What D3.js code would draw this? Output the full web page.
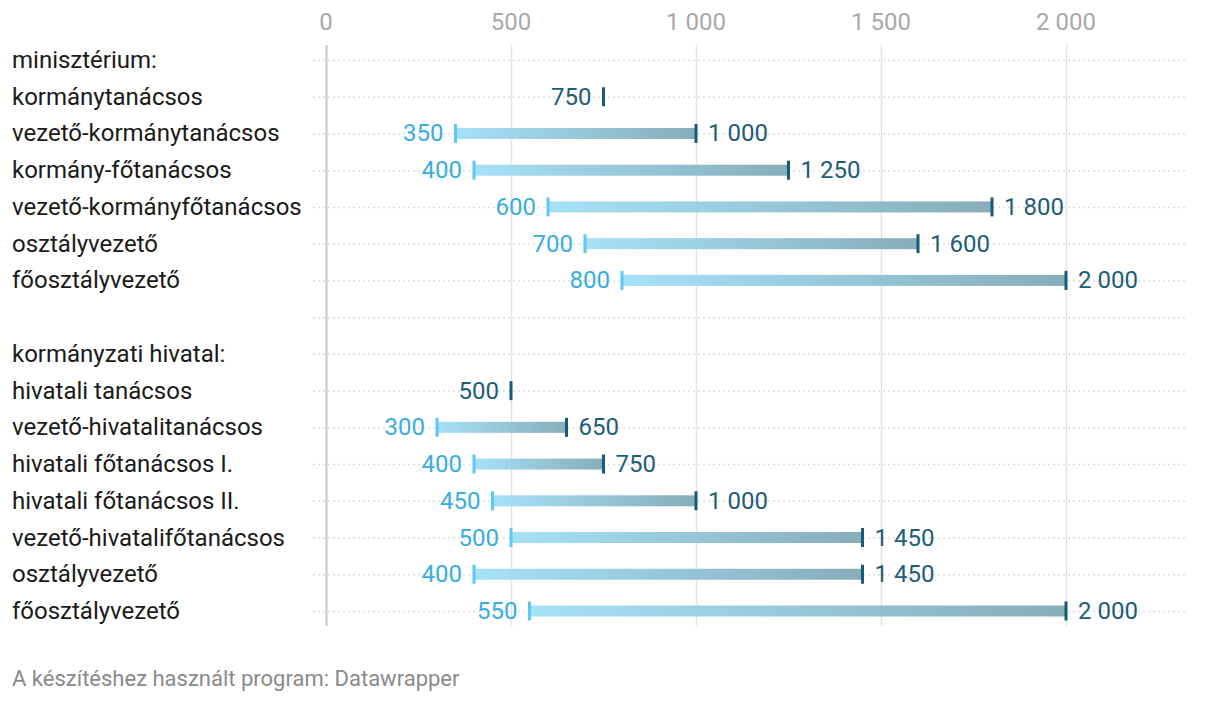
<!DOCTYPE html>
<html><head><meta charset="utf-8">
<script src="https://cdn.jsdelivr.net/npm/d3@7"></script>
<style>
body{margin:0;background:#fff;font-family:Roboto,"Noto Sans",sans-serif;}
</style></head>
<body><svg id="c" width="1220" height="702"></svg>
<script>
const categories = ["minisztérium:","kormánytanácsos","vezető-kormánytanácsos","kormány-főtanácsos","vezető-kormányfőtanácsos","osztályvezető","főosztályvezető","","kormányzati hivatal:","hivatali tanácsos","vezető-hivatalitanácsos","hivatali főtanácsos I.","hivatali főtanácsos II.","vezető-hivatalifőtanácsos","osztályvezető","főosztályvezető"];
const minValues = [null,750,350,400,600,700,800,null,null,500,300,400,450,500,400,550];
const maxValues = [null,750,1000,1250,1800,1600,2000,null,null,500,650,750,1000,1450,1450,2000];
const tickValues = [0,500,1000,1500,2000];
const footer = "A készítéshez használt program: Datawrapper";

const svg = d3.select("#c");
const x = d3.scaleLinear().domain([0,2000]).range([326,1066]);
const y = d3.scalePoint().domain(d3.range(categories.length)).range([60,611]);
const fmt = v => d3.format(",")(v).replace(/,/g," ");
const FS = 24;

const defs = svg.append("defs");
const g = defs.append("linearGradient").attr("id","grad").attr("x1","0%").attr("x2","100%");
g.append("stop").attr("offset","0%").attr("stop-color","#a6e1f8");
g.append("stop").attr("offset","100%").attr("stop-color","#87adba");

// vertical grid
svg.selectAll(".grid").data(tickValues).join("line")
  .attr("x1",d=>Math.round(x(d))+0.5).attr("x2",d=>Math.round(x(d))+0.5)
  .attr("y1",45).attr("y2",626)
  .attr("stroke",d=>d===0?"#c8c8c8":"#e3e3e3").attr("stroke-width",d=>d===0?2:1.5);

// top axis labels
svg.selectAll(".tl").data(tickValues).join("text")
  .attr("x",d=>x(d)).attr("y",30).attr("text-anchor","middle")
  .attr("font-size",FS).attr("fill","#a8a8a8").text(d=>fmt(d));

// row dotted lines
svg.selectAll(".row").data(categories).join("line")
  .attr("x1",313).attr("x2",1188)
  .attr("y1",(d,i)=>y(i)+0.5).attr("y2",(d,i)=>y(i)+0.5)
  .attr("stroke","#dcdcdc").attr("stroke-width",1.5).attr("stroke-dasharray","2,3");

// category labels
svg.selectAll(".cat").data(categories).join("text")
  .attr("x",12).attr("y",(d,i)=>y(i)+8).attr("font-size",FS).attr("fill","#1a1a1a").text(d=>d);

const rows = categories.map((c,i)=>({i,min:minValues[i],max:maxValues[i]})).filter(d=>d.min!==null);

// bars
svg.selectAll(".bar").data(rows.filter(d=>d.max>d.min)).join("rect")
  .attr("x",d=>x(d.min)).attr("width",d=>x(d.max)-x(d.min))
  .attr("y",d=>y(d.i)-5.5).attr("height",11).attr("fill","url(#grad)");

// min ticks
svg.selectAll(".tmin").data(rows.filter(d=>d.max>d.min)).join("rect")
  .attr("x",d=>x(d.min)-1.5).attr("width",3).attr("y",d=>y(d.i)-9.5).attr("height",19).attr("fill","#5cc8f5");
// max ticks
svg.selectAll(".tmax").data(rows).join("rect")
  .attr("x",d=>x(d.max)-1.5).attr("width",3).attr("y",d=>y(d.i)-9.5).attr("height",19).attr("fill","#175a75");

// min labels
svg.selectAll(".lmin").data(rows).join("text")
  .attr("x",d=>x(d.min)-12).attr("y",d=>y(d.i)+8).attr("text-anchor","end")
  .attr("font-size",FS).attr("fill",d=>d.max>d.min?"#38ade0":"#1d5d77")
  .text(d=>fmt(d.min));
// max labels
svg.selectAll(".lmax").data(rows.filter(d=>d.max>d.min)).join("text")
  .attr("x",d=>x(d.max)+12).attr("y",d=>y(d.i)+8)
  .attr("font-size",FS).attr("fill","#1d5d77").text(d=>fmt(d.max));

svg.append("text").attr("x",12).attr("y",686).attr("font-size",22).attr("fill","#8a8a8a").text(footer);
</script></body></html>
